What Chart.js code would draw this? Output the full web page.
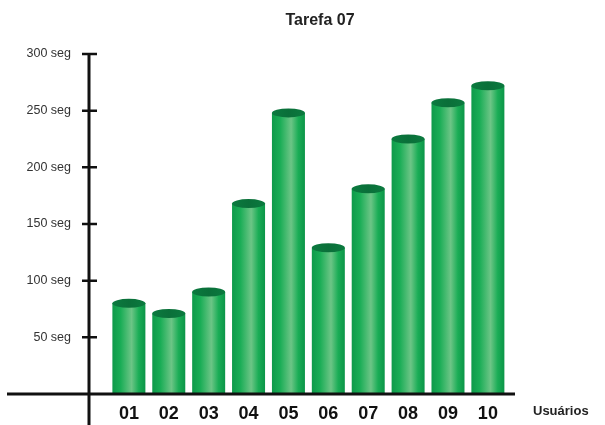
<!DOCTYPE html>
<html>
<head>
<meta charset="utf-8">
<script src="https://cdn.jsdelivr.net/npm/chart.js@4.4.1/dist/chart.umd.min.js"></script>
<style>
  html,body{margin:0;padding:0;background:#fff;}
  #wrap{width:605px;height:425px;}
</style>
</head>
<body>
<div id="wrap"><canvas id="chart"></canvas></div>
<script>
const users = ['01','02','03','04','05','06','07','08','09','10'];
const times = [80, 71, 90, 168, 248, 129, 181, 225, 257, 272];
const yTicks = [50, 100, 150, 200, 250, 300];
const title = 'Tarefa 07';
const xTitle = 'Usuários';

const points = users.map((u,i)=>({x:i+1, y:times[i]}));
const FONT = '"Liberation Sans", Arial, sans-serif';

// draws each bar as a green cylinder from the bar element geometry
const cylinders = {
  id:'cylinders',
  afterDatasetsDraw(chart){
    const c = chart.ctx;
    chart.getDatasetMeta(0).data.forEach(el=>{
      const l = el.x - el.width/2, r = el.x + el.width/2, w = el.width;
      const g = c.createLinearGradient(l,0,r,0);
      g.addColorStop(0,'#0e9a4a');
      g.addColorStop(0.25,'#1aad56');
      g.addColorStop(0.58,'#6cc586');
      g.addColorStop(0.8,'#1aad56');
      g.addColorStop(1,'#0c9548');
      c.save();
      c.fillStyle = g;
      c.fillRect(l, el.y, w, el.base - el.y);
      const ry = 4.5;
      const tg = c.createLinearGradient(l,0,r,0);
      tg.addColorStop(0,'#0b7a3f');
      tg.addColorStop(0.5,'#0a6f39');
      tg.addColorStop(1,'#0b7a3f');
      c.beginPath();
      c.ellipse(el.x, el.y, w/2, ry, 0, 0, Math.PI*2);
      c.fillStyle = tg;
      c.fill();
      c.restore();
    });
  }
};

// axis lines that cross each other, title and the right-hand axis label
const axes = {
  id:'axes',
  afterDraw(chart){
    const c = chart.ctx, a = chart.chartArea, ys = chart.scales.y;
    c.save();
    c.strokeStyle = '#111';
    c.lineWidth = 3;
    c.beginPath();
    c.moveTo(a.left - 82, a.bottom);
    c.lineTo(a.right, a.bottom);
    c.moveTo(a.left, a.top);
    c.lineTo(a.left, chart.height);
    c.stroke();
    c.lineWidth = 2.5;
    c.beginPath();
    yTicks.forEach(v=>{
      const py = ys.getPixelForValue(v);
      c.moveTo(a.left - 7, py);
      c.lineTo(a.left + 8, py);
    });
    c.stroke();
    c.fillStyle = '#222';
    c.font = 'bold 13px ' + FONT;
    c.textAlign = 'left';
    c.textBaseline = 'middle';
    c.fillText(xTitle, a.right + 18, a.bottom + 17);
    c.font = 'bold 16px ' + FONT;
    c.textAlign = 'center';
    c.fillText(title, 320, 21);
    c.restore();
  }
};

new Chart(document.getElementById('chart'),{
  type:'bar',
  data:{datasets:[{data:points, backgroundColor:'rgba(0,0,0,0)', barThickness:33}]},
  options:{
    responsive:true, maintainAspectRatio:false, animation:false,
    layout:{padding:{left:0,right:90,top:54,bottom:0}},
    plugins:{legend:{display:false}, tooltip:{enabled:false}, title:{display:false}},
    scales:{
      x:{type:'linear', min:0, max:10.68, offset:false,
        afterBuildTicks(s){ s.ticks = users.map((u,i)=>({value:i+1})); },
        afterFit(s){ s.height = 31; },
        grid:{display:false}, border:{display:false},
        ticks:{autoSkip:false, maxRotation:0, padding:1, color:'#111',
          font:{family:FONT, size:18, weight:'bold'},
          callback:(v)=>users[v-1] || ''}
      },
      y:{min:0, max:300,
        afterBuildTicks(s){ s.ticks = yTicks.map(v=>({value:v})); },
        afterFit(s){ s.width = 89; },
        grid:{display:false}, border:{display:false},
        ticks:{padding:10, color:'#333',
          font:{family:FONT, size:12.5},
          callback:(v)=>v + ' seg'}
      }
    }
  },
  plugins:[cylinders, axes]
});
</script>
</body>
</html>
